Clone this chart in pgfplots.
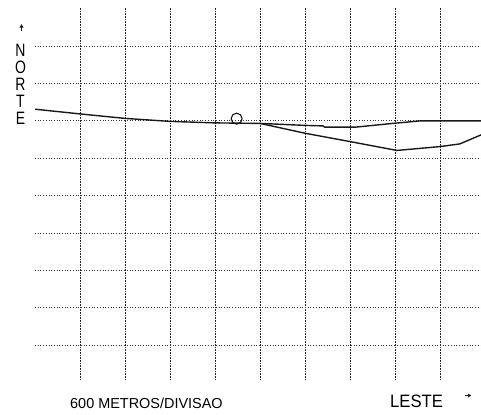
\documentclass[border=0pt]{standalone}
\usepackage{fontspec}
\setmainfont{Liberation Sans}
\usepackage{pgfplots}
\pgfplotsset{compat=1.18}
\usetikzlibrary{arrows.meta}
\begin{document}
\begin{tikzpicture}[x=1bp,y=1bp]
\path[use as bounding box] (0,0) rectangle (481,414);
\begin{axis}[at={(35bp,34bp)}, anchor=south west, scale only axis,
  width=446bp, height=372bp,
  xmin=-1, xmax=8.91, ymin=-6.93, ymax=3.02,
  axis line style={draw=none},
  xtick={0,...,8}, ytick={-6,...,2},
  xticklabels={}, yticklabels={}, major tick length=0pt,
  grid=major,
  x grid style={black!85, line width=1bp, dash pattern=on 1bp off 0.6bp},
  y grid style={black!80, line width=0.9bp, dash pattern=on 1bp off 1.7bp},
  clip=true]
\addplot[black!90, line width=1.4bp] coordinates {
(-1,0.313) (0,0.187) (1,0.067) (2,-0.013) (3,-0.053) (4,-0.067)
(5,-0.12) (5.4,-0.134) (5.44,-0.168) (6.11,-0.168) (7,-0.061) (7.56,0) (8.91,0)};
\addplot[black!90, line width=1.4bp] coordinates {
(4,-0.067) (5,-0.33) (6,-0.553) (7.04,-0.79) (8,-0.687) (8.44,-0.615) (8.91,-0.374)};
\addplot[only marks, mark=o, mark size=5.5bp, mark options={line width=1.1bp, black!90}] coordinates {(3.48,0.06)};
\end{axis}
\draw[black!90, line width=1bp, -{Latex[length=3.5bp,width=4.5bp]}] (21.5,383) -- (21.5,390);
\node[anchor=north, inner sep=0pt, align=center, font={\fontsize{18}{17}\selectfont}] at (20.5,370)
  {\scalebox{0.78}[1]{N}\\\scalebox{0.78}[1]{O}\\\scalebox{0.78}[1]{R}\\\scalebox{0.78}[1]{T}\\\scalebox{0.78}[1]{E}};
\node[anchor=base west, inner sep=0pt, font={\fontsize{14.5}{16}\selectfont}] at (70,6) {600 METROS/DIVISAO};
\node[anchor=base west, inner sep=0pt, font={\fontsize{18}{18}\selectfont}] at (390,6.5) {\scalebox{0.93}[1]{LESTE}};
\draw[black!90, line width=1bp, -{Latex[length=3.5bp,width=4.5bp]}] (464.5,18.5) -- (471.5,18.5);
\end{tikzpicture}
\end{document}
